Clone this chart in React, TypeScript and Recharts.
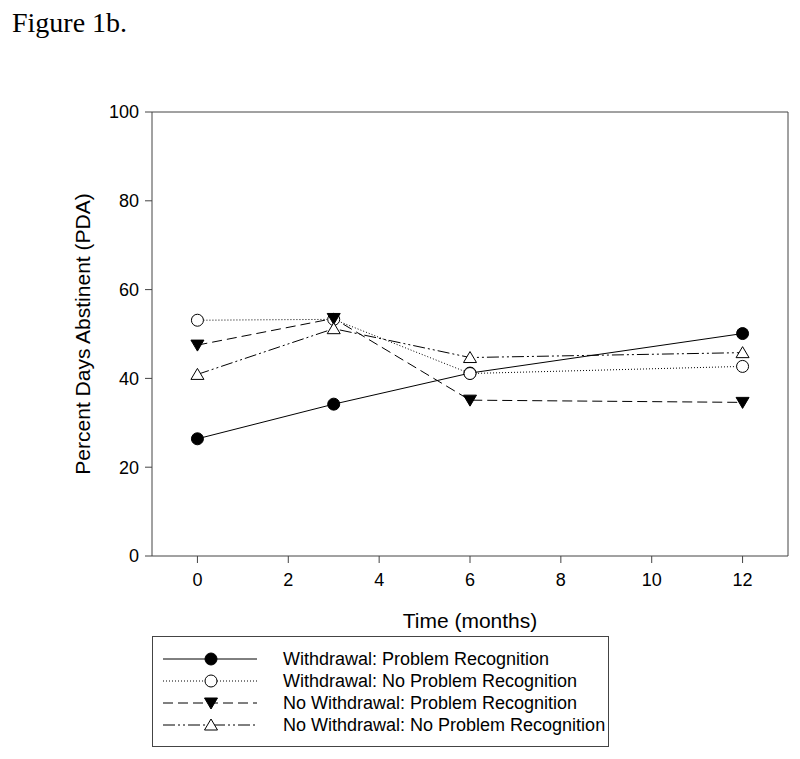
import React from 'react';
import { LineChart, Line, XAxis, YAxis, Legend, ReferenceLine } from 'recharts';

const months = [0, 3, 6, 12];
const withdrawalPR = [26.4, 34.2, 41.2, 50.1];
const withdrawalNoPR = [53.1, 53.3, 41.1, 42.7];
const noWithdrawalPR = [47.5, 53.5, 35.1, 34.6];
const noWithdrawalNoPR = [40.9, 51.2, 44.7, 45.8];
const xTicks = [0, 2, 4, 6, 8, 10, 12];
const yTicks = [0, 20, 40, 60, 80, 100];
const xDomain: [number, number] = [-1, 13];
const yDomain: [number, number] = [0, 100];

const seriesNames = [
  'Withdrawal: Problem Recognition',
  'Withdrawal: No Problem Recognition',
  'No Withdrawal: Problem Recognition',
  'No Withdrawal: No Problem Recognition',
];

const data = months.map((m, i) => ({
  month: m,
  wPR: withdrawalPR[i],
  wNPR: withdrawalNoPR[i],
  nwPR: noWithdrawalPR[i],
  nwNPR: noWithdrawalNoPR[i],
}));

const SANS = '"Liberation Sans", Arial, sans-serif';
const AXIS = '#444';

type Kind = 'filledCircle' | 'openCircle' | 'filledDown' | 'openUp';

function Marker({ kind, cx, cy }: { kind: Kind; cx: number; cy: number }) {
  if (kind === 'filledCircle') return <circle cx={cx} cy={cy} r={6} fill="#000" stroke="#000" />;
  if (kind === 'openCircle') return <circle cx={cx} cy={cy} r={6} fill="#fff" stroke="#000" strokeWidth={1} />;
  if (kind === 'filledDown')
    return <polygon points={`${cx - 6.5},${cy - 5} ${cx + 6.5},${cy - 5} ${cx},${cy + 6}`} fill="#000" stroke="#000" />;
  return <polygon points={`${cx - 6.5},${cy + 5} ${cx + 6.5},${cy + 5} ${cx},${cy - 6}`} fill="#fff" stroke="#000" strokeWidth={1} />;
}

const series: { key: string; name: string; dash?: string; kind: Kind }[] = [
  { key: 'wPR', name: seriesNames[0], dash: undefined, kind: 'filledCircle' },
  { key: 'wNPR', name: seriesNames[1], dash: '1 2', kind: 'openCircle' },
  { key: 'nwPR', name: seriesNames[2], dash: '10 5', kind: 'filledDown' },
  { key: 'nwNPR', name: seriesNames[3], dash: '12 3 2 3 2 3', kind: 'openUp' },
];

const makeDot = (kind: Kind, key: string) => (props: any) => {
  const { cx, cy, index } = props;
  if (cx == null || cy == null) return <g key={`${key}-${index}`} />;
  return (
    <g key={`${key}-${index}`}>
      <Marker kind={kind} cx={cx} cy={cy} />
    </g>
  );
};

const LegendBox = () => {
  const rows = [23, 45, 67, 89];
  return (
    <svg width={457} height={111} style={{ display: 'block' }}>
      <rect x={0.5} y={0.5} width={456} height={110} fill="#fff" stroke={AXIS} strokeWidth={1} />
      {series.map((s, i) => (
        <g key={s.key}>
          <line x1={11} x2={105} y1={rows[i]} y2={rows[i]} stroke="#000" strokeWidth={1} strokeDasharray={s.dash} />
          <Marker kind={s.kind} cx={59} cy={rows[i]} />
          <text x={131} y={rows[i]} dominantBaseline="central" fontFamily={SANS} fontSize={18} fill="#000">
            {s.name}
          </text>
        </g>
      ))}
    </svg>
  );
};

export default function App() {
  return (
    <div style={{ position: 'absolute', left: 0, top: 0, width: 800, height: 759, background: '#fff' }}>
      <svg width={200} height={45} style={{ position: 'absolute', left: 0, top: 0 }}>
        <text x={12} y={32} fontFamily='"Liberation Serif", "Times New Roman", serif' fontSize={28} fill="#000">
          Figure 1b.
        </text>
      </svg>
      <LineChart
        width={800}
        height={759}
        data={data}
        margin={{ top: 112, right: 12, bottom: 163, left: 92 }}
      >
        <XAxis
          dataKey="month"
          type="number"
          domain={xDomain}
          ticks={xTicks}
          allowDataOverflow
          height={40}
          stroke={AXIS}
          tickSize={7}
          tickMargin={10}
          tick={{ fill: '#000', fontFamily: SANS, fontSize: 18 }}
          tickLine={{ stroke: AXIS }}
          label={{
            content: (p: any) => {
              const vb = p.viewBox || { x: 152, y: 556, width: 636 };
              return (
                <text
                  x={vb.x + vb.width / 2}
                  y={620}
                  textAnchor="middle"
                  dominantBaseline="central"
                  fontFamily={SANS}
                  fontSize={21}
                  fill="#000"
                >
                  Time (months)
                </text>
              );
            },
          }}
        />
        <YAxis
          type="number"
          domain={yDomain}
          ticks={yTicks}
          width={60}
          stroke={AXIS}
          tickSize={7}
          tickMargin={6}
          tick={{ fill: '#000', fontFamily: SANS, fontSize: 18 }}
          tickLine={{ stroke: AXIS }}
          label={{
            content: () => (
              <text
                x={82.5}
                y={334}
                transform="rotate(-90 82.5 334)"
                textAnchor="middle"
                dominantBaseline="central"
                fontFamily={SANS}
                fontSize={21}
                fill="#000"
              >
                Percent Days Abstinent (PDA)
              </text>
            ),
          }}
        />
        <ReferenceLine y={yDomain[1]} stroke={AXIS} strokeWidth={1} ifOverflow="extendDomain" />
        <ReferenceLine x={xDomain[1]} stroke={AXIS} strokeWidth={1} ifOverflow="extendDomain" />
        <Legend
          layout="vertical"
          align="center"
          verticalAlign="middle"
          content={() => <LegendBox />}
          wrapperStyle={{ left: 152, top: 636, width: 457, height: 111 }}
        />
        {series.map((s) => (
          <Line
            key={s.key}
            dataKey={s.key}
            name={s.name}
            type="linear"
            stroke="#000"
            strokeWidth={1}
            strokeDasharray={s.dash}
            dot={makeDot(s.kind, s.key)}
            activeDot={false}
            isAnimationActive={false}
          />
        ))}
      </LineChart>
    </div>
  );
}
